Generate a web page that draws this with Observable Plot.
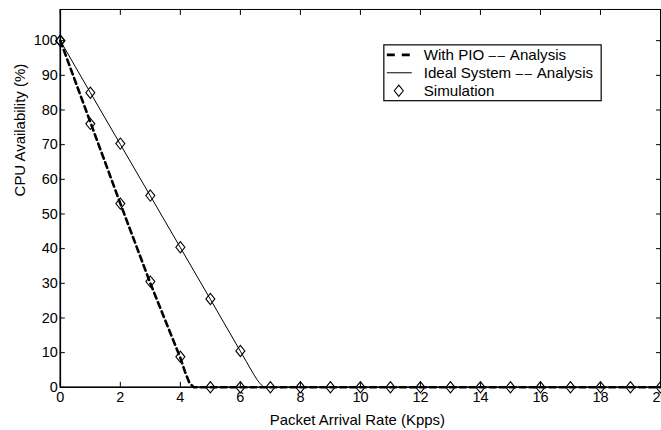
<!DOCTYPE html>
<html>
<head>
<meta charset="utf-8">
<script src="https://cdn.jsdelivr.net/npm/d3@7"></script>
<script src="https://cdn.jsdelivr.net/npm/@observablehq/plot@0.6"></script>
<style>
  html, body { margin: 0; padding: 0; background: #fff; overflow: hidden; }
  #chart { position: relative; width: 661px; height: 430px; overflow: hidden; }
  svg { font-family: "Liberation Sans", Arial, Helvetica, sans-serif; }
</style>
</head>
<body>
<div id="chart"></div>
<script>
// ---- data ----
const simX       = [0,1,2,3,4,5,6,7,8,9,10,11,12,13,14,15,16,17,18,19,20];
const simIdeal   = [100,85,70.3,55.3,40.4,25.5,10.5,0,0,0,0,0,0,0,0,0,0,0,0,0,0];
const simPIOX    = [0,1,2,3,4,5,6];
const simPIO     = [100,76,53,30.5,8.8,0,0];
const idealX     = [0,1,2,3,4,5,6,6.2,6.4,6.55,6.7,6.85,20];
const idealY     = [100,85,70.1,55.2,40.3,25.4,10.4,7.4,4.4,2.3,0.7,0,0];
const pioX       = [0,1,2,3,4,4.15,4.3,4.45,20];
const pioY       = [100,76.5,53,30,8.5,4.6,1.3,0,0];
const xTicks     = [0,2,4,6,8,10,12,14,16,18,20];
const yTicks     = [0,10,20,30,40,50,60,70,80,90,100];
const xTitle     = "Packet Arrival Rate (Kpps)";
const yTitle     = "CPU Availability (%)";
// legend labels split around the double dash so the dashes can be spaced like the reference
const legendLabels = [["With PIO ", "––", " Analysis"], ["Ideal System ", "––", " Analysis"], ["Simulation"]];

const idealLine = idealX.map((x, i) => ({x, y: idealY[i]}));
const pioLine   = pioX.map((x, i) => ({x, y: pioY[i]}));
const simPts    = simX.map((x, i) => ({x, y: simIdeal[i]}))
  .concat(simPIOX.map((x, i) => ({x, y: simPIO[i]})));

const diamond = {
  draw(ctx, size) {
    const r = Math.sqrt(size / Math.PI);
    ctx.moveTo(0, -r * 1.15);
    ctx.lineTo(r * 0.92, 0);
    ctx.lineTo(0, r * 1.15);
    ctx.lineTo(-r * 0.92, 0);
    ctx.closePath();
  }
};

const W = 663, H = 430;
const chart = Plot.plot({
  width: W, height: H,
  marginLeft: 60, marginRight: 1, marginTop: 9, marginBottom: 42,
  style: {fontFamily: "'Liberation Sans', Arial, sans-serif", fontSize: "14.5px", background: "white", overflow: "visible"},
  x: {domain: [0, 20], label: null},
  y: {domain: [0, 109], label: null},
  marks: [
    Plot.frame({stroke: "black", strokeWidth: 1}),
    Plot.axisX(xTicks, {anchor: "bottom", tickSize: -5, tickPadding: 9, label: null, fontSize: 14.5}),
    Plot.axisX(xTicks, {anchor: "top", tickSize: -5, tickFormat: () => "", label: null}),
    Plot.axisY(yTicks, {anchor: "left", tickSize: -5, tickPadding: 7.5, label: null, fontSize: 14.5}),
    Plot.axisY(yTicks, {anchor: "right", tickSize: -5, tickFormat: () => "", label: null}),
    Plot.text([xTitle], {frameAnchor: "bottom", dy: 27, fontSize: 15, lineAnchor: "top", dx: -3}),
    Plot.text([yTitle], {frameAnchor: "left", rotate: -90, dx: -40, dy: -2, fontSize: 15, lineAnchor: "middle"}),
    Plot.line(pioLine, {x: "x", y: "y", stroke: "black", strokeWidth: 2.6, strokeDasharray: "6,4", curve: "linear"}),
    Plot.line(idealLine, {x: "x", y: "y", stroke: "black", strokeWidth: 1, curve: "monotone-x"}),
    Plot.dot(simPts, {x: "x", y: "y", symbol: diamond, r: 4.9, stroke: "black", strokeWidth: 1.1, fill: "none"}),
    Plot.ruleX([0], {stroke: "black", strokeWidth: 1.6}),
    Plot.ruleY([0], {stroke: "black", strokeWidth: 1.6})
  ]
});
document.getElementById("chart").appendChild(chart);

// legend box (inside plot area)
const svg = d3.select(chart);
const lg = svg.append("g").attr("font-family", "'Liberation Sans', Arial, sans-serif")
  .attr("font-size", 15.2).attr("text-anchor", "start");
lg.append("rect").attr("x", 385).attr("y", 45).attr("width", 218).attr("height", 56)
  .attr("fill", "white").attr("stroke", "black").attr("stroke-width", 1.2);
const rows = [55, 73, 91];
lg.append("line").attr("x1", 388).attr("x2", 412).attr("y1", rows[0]).attr("y2", rows[0])
  .attr("stroke", "black").attr("stroke-width", 2.6).attr("stroke-dasharray", "8,7");
lg.append("line").attr("x1", 388).attr("x2", 413).attr("y1", rows[1]).attr("y2", rows[1])
  .attr("stroke", "black").attr("stroke-width", 1);
lg.append("path").attr("d", d3.symbol(diamond, Math.PI * 4.9 * 4.9)()).attr("transform", `translate(400,${rows[2]})`)
  .attr("fill", "none").attr("stroke", "black").attr("stroke-width", 1.1);
legendLabels.forEach((parts, i) => {
  const t = lg.append("text").attr("x", 425).attr("y", rows[i]).attr("dy", "0.35em").attr("text-anchor", "start");
  parts.forEach((p, j) => {
    const ts = t.append("tspan").text(p);
    if (p === "––") ts.attr("letter-spacing", "1.5px").attr("font-size", 13.5);
  });
});
</script>
</body>
</html>
